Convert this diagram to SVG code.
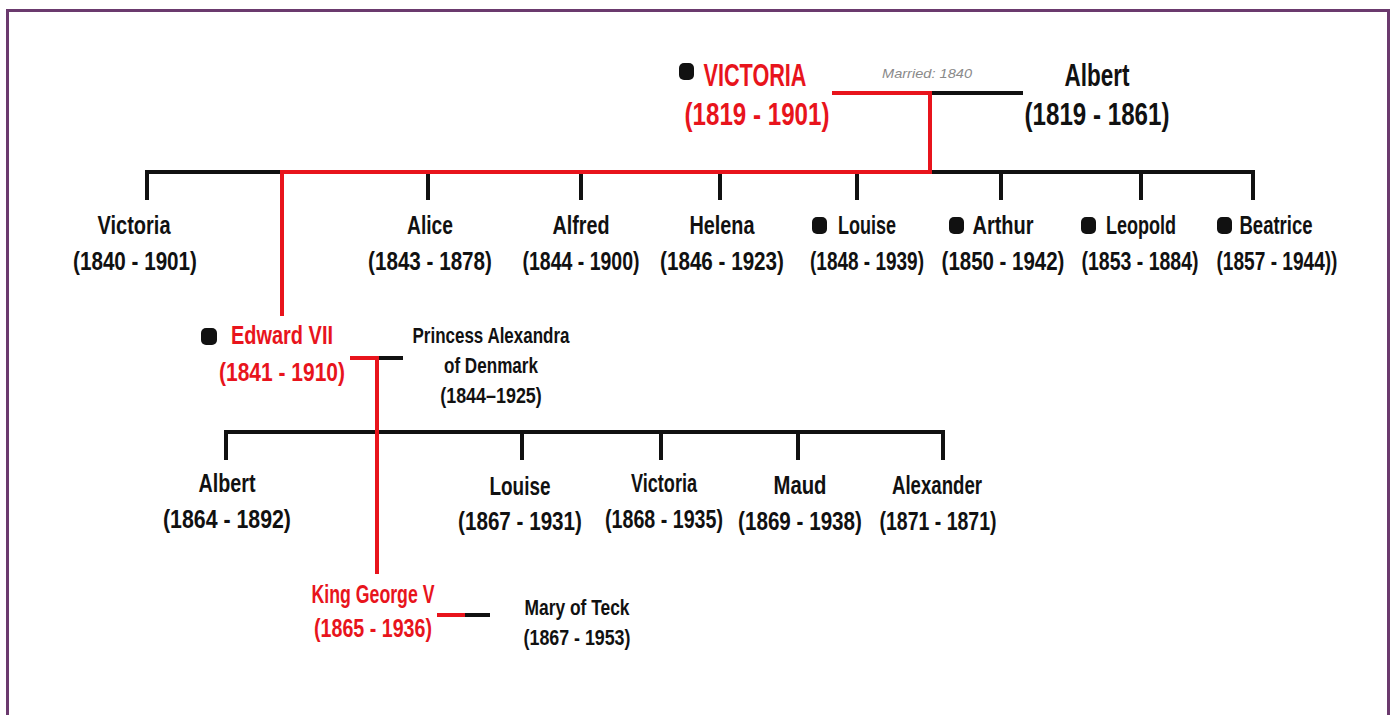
<svg xmlns="http://www.w3.org/2000/svg" width="1395" height="715" viewBox="0 0 1395 715">
<style>
text{font-family:"Liberation Sans",Arial,sans-serif;font-weight:bold;text-anchor:middle;fill:#111}
.r{fill:#e8141c}
.big{font-size:31px}
.mid{font-size:25px}
.sm{font-size:22px}
.mar{font-size:13px;font-style:italic;font-weight:normal;fill:#8a8a8a}
.k{stroke:#111;stroke-width:4;fill:none}
.rl{stroke:#e8141c;stroke-width:4;fill:none}
.b{fill:#111}
</style>
<rect x="7.5" y="10.5" width="1381" height="720" fill="#fff" stroke="#6b3a6e" stroke-width="3"/>
<g id="connectors">
<path class="k" d="M930 93H1023"/>
<path class="k" d="M147 200V172H282M930 172H1253V200M428 172V200M581 172V200M720 172V200M857 172V200M1001 172V200M1141 172V200"/>
<path class="k" d="M377 358H403"/>
<path class="k" d="M226 460V432H943V460M522 432V460M661 432V460M798 432V460"/>
<path class="k" d="M463 615H490"/>
<path class="rl" d="M832 93H930V172H282V316"/>
<path class="rl" d="M350 358H379M377 358V574"/>
<path class="rl" d="M437 615H465"/>
</g>
<g id="victoria">
<rect class="b" x="679" y="63" width="15" height="17" rx="5"/>
<text class="r big" x="755" y="86" textLength="103" lengthAdjust="spacingAndGlyphs">VICTORIA</text>
<text class="r big" transform="translate(757 125) scale(0.779 1)">(1819 - 1901)</text>
</g>
<g id="married"><text class="mar" x="927" y="78" textLength="90" lengthAdjust="spacingAndGlyphs">Married: 1840</text></g>
<g id="albert">
<text class="big" x="1097" y="86" textLength="65" lengthAdjust="spacingAndGlyphs">Albert</text>
<text class="big" transform="translate(1097 125) scale(0.779 1)">(1819 - 1861)</text>
</g>
<g id="c-victoria"><text class="mid" x="134" y="234" textLength="73" lengthAdjust="spacingAndGlyphs">Victoria</text><text class="mid" transform="translate(135 270) scale(0.826 1)">(1840 - 1901)</text></g>
<g id="c-alice"><text class="mid" x="430" y="234" textLength="46" lengthAdjust="spacingAndGlyphs">Alice</text><text class="mid" transform="translate(430 270) scale(0.826 1)">(1843 - 1878)</text></g>
<g id="c-alfred"><text class="mid" x="581" y="234" textLength="57" lengthAdjust="spacingAndGlyphs">Alfred</text><text class="mid" transform="translate(581 270) scale(0.78 1)">(1844 - 1900)</text></g>
<g id="c-helena"><text class="mid" x="722" y="234" textLength="65" lengthAdjust="spacingAndGlyphs">Helena</text><text class="mid" transform="translate(722 270) scale(0.826 1)">(1846 - 1923)</text></g>
<g id="c-louise"><rect class="b" x="812" y="217" width="15" height="17" rx="5"/><text class="mid" x="867" y="234" textLength="58" lengthAdjust="spacingAndGlyphs">Louise</text><text class="mid" transform="translate(867 270) scale(0.76 1)">(1848 - 1939)</text></g>
<g id="c-arthur"><rect class="b" x="949" y="217" width="15" height="17" rx="5"/><text class="mid" x="1003" y="234" textLength="61" lengthAdjust="spacingAndGlyphs">Arthur</text><text class="mid" transform="translate(1003 270) scale(0.819 1)">(1850 - 1942)</text></g>
<g id="c-leopold"><rect class="b" x="1081" y="217" width="15" height="17" rx="5"/><text class="mid" x="1141" y="234" textLength="70" lengthAdjust="spacingAndGlyphs">Leopold</text><text class="mid" transform="translate(1140 270) scale(0.78 1)">(1853 - 1884)</text></g>
<g id="c-beatrice"><rect class="b" x="1217" y="217" width="15" height="17" rx="5"/><text class="mid" x="1276" y="234" textLength="73" lengthAdjust="spacingAndGlyphs">Beatrice</text><text class="mid" transform="translate(1277 270) scale(0.764 1)">(1857 - 1944))</text></g>
<g id="edward"><rect class="b" x="201" y="328" width="16" height="17" rx="5"/><text class="r mid" x="282" y="344" textLength="102" lengthAdjust="spacingAndGlyphs">Edward VII</text><text class="r mid" transform="translate(282 381) scale(0.839 1)">(1841 - 1910)</text></g>
<g id="alexandra"><text class="sm" x="491" y="343" textLength="157" lengthAdjust="spacingAndGlyphs">Princess Alexandra</text><text class="sm" x="491" y="373" textLength="94" lengthAdjust="spacingAndGlyphs">of Denmark</text><text class="sm" transform="translate(491 403) scale(0.815 1)">(1844–1925)</text></g>
<g id="g-albert"><text class="mid" x="227" y="492" textLength="57" lengthAdjust="spacingAndGlyphs">Albert</text><text class="mid" transform="translate(227 528) scale(0.853 1)">(1864 - 1892)</text></g>
<g id="g-louise"><text class="mid" x="520" y="495" textLength="61" lengthAdjust="spacingAndGlyphs">Louise</text><text class="mid" transform="translate(520 530) scale(0.826 1)">(1867 - 1931)</text></g>
<g id="g-victoria"><text class="mid" x="664" y="492" textLength="66" lengthAdjust="spacingAndGlyphs">Victoria</text><text class="mid" transform="translate(664 528) scale(0.786 1)">(1868 - 1935)</text></g>
<g id="g-maud"><text class="mid" x="800" y="494" textLength="53" lengthAdjust="spacingAndGlyphs">Maud</text><text class="mid" transform="translate(800 530) scale(0.826 1)">(1869 - 1938)</text></g>
<g id="g-alexander"><text class="mid" x="937" y="494" textLength="90" lengthAdjust="spacingAndGlyphs">Alexander</text><text class="mid" transform="translate(938 530) scale(0.78 1)">(1871 - 1871)</text></g>
<g id="george"><text class="r mid" x="373" y="603" textLength="123" lengthAdjust="spacingAndGlyphs">King George V</text><text class="r mid" transform="translate(373 637) scale(0.786 1)">(1865 - 1936)</text></g>
<g id="mary"><text class="sm" x="577" y="615" textLength="105" lengthAdjust="spacingAndGlyphs">Mary of Teck</text><text class="sm" transform="translate(577 645) scale(0.81 1)">(1867 - 1953)</text></g>
</svg>
